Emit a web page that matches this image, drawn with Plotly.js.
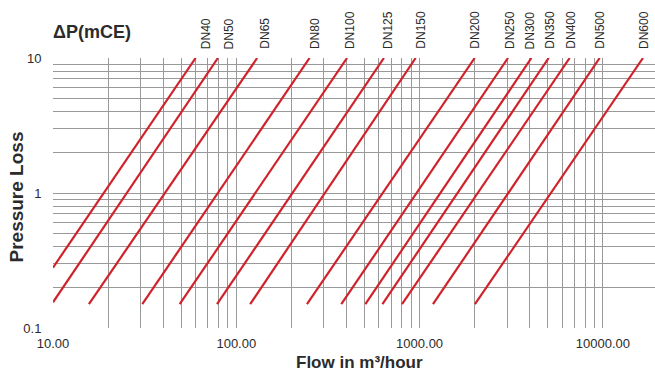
<!DOCTYPE html>
<html>
<head>
<meta charset="utf-8">
<script src="https://cdn.plot.ly/plotly-3.0.1.min.js"></script>
<style>html,body{margin:0;padding:0;background:#fff;overflow:hidden}#chart{width:655px;height:372px}</style>
</head>
<body>
<div id="chart"></div>
<script>
// ---- data ----
const sizes = ['DN40','DN50','DN65','DN80','DN100','DN125','DN150','DN200','DN250','DN300','DN350','DN400','DN500','DN600'];
const flowStart = [10, 10, 15.7, 30.7, 49.1, 78.5, 119, 243, 374, 506, 627, 802, 1183, 2005];
const lossStart = [0.28, 0.155, 0.15, 0.15, 0.15, 0.15, 0.15, 0.15, 0.15, 0.15, 0.15, 0.15, 0.15, 0.15];
const flowEnd = [60, 79.4, 130, 251, 402, 639, 952, 1998, 3036, 4073, 5062, 6588, 9604, 16548];
const lossEnd = [10, 10, 10, 10, 10, 10, 10, 10, 10, 10, 10, 10, 10, 10];
const xMajor = [10, 100, 1000, 10000];
const xMajorText = ['10.00', '100.00', '1000.00', '10000.00'];
const yMajor = [0.1, 1, 10];
const yMajorText = ['0.1', '1', '10'];
const xTitle = 'Flow in m³/hour';
const yTitle = 'Pressure Loss';
const unitLabel = 'ΔP(mCE)';

// label offsets (px) relative to line end
const labelShift = [10, 11, 7, 5, 3, 4, 5, 0, 2, -1, 1, 1, 0, 1];

// grid values (every 1..9 in each decade)
function gridVals(lo, hi) {
  const v = [];
  for (let d = lo; d < hi; d *= 10) for (let k = 1; k <= 9; k++) v.push(+(k * d).toPrecision(3));
  v.push(hi);
  return v;
}
const xGrid = gridVals(10, 10000);
const yGrid = gridVals(0.1, 10);
const xText = xGrid.map(v => { const i = xMajor.indexOf(v); return i >= 0 ? xMajorText[i] : ''; });
const yText = yGrid.map(v => { const i = yMajor.findIndex(m => Math.abs(m - v) < 1e-9); return i >= 0 ? yMajorText[i] : ''; });

const red = '#d0222a';
const traces = sizes.map((s, i) => ({
  type: 'scatter', mode: 'lines', name: s,
  x: [flowStart[i], flowEnd[i]], y: [lossStart[i], lossEnd[i]],
  line: {color: red, width: 2.2}, hoverinfo: 'skip'
}));

const txt = '#2b2b2b';
const font = 'Liberation Sans, Arial, sans-serif';
const W = 655, H = 372, ml = 53, mt = 58, mb = 44;
const pw = W - ml, ph = H - mt - mb;
const px = X => (X - ml) / pw;
const py = Y => 1 - (Y - mt) / ph;

const annotations = sizes.map((s, i) => ({
  text: s, x: Math.log10(flowEnd[i]), xref: 'x', y: 1, yref: 'paper',
  xanchor: 'center', yanchor: 'bottom', yshift: 7, xshift: labelShift[i],
  textangle: -90, showarrow: false, font: {family: font, size: 12, color: txt}
}));
annotations.push({text: unitLabel, x: px(51), xref: 'paper', xanchor: 'left', y: py(32), yref: 'paper', yanchor: 'middle',
  showarrow: false, font: {family: font, size: 18, color: txt, weight: 'bold'}});
annotations.push({text: xTitle, x: px(359), xref: 'paper', xanchor: 'center', y: py(362), yref: 'paper', yanchor: 'middle',
  borderpad: 0, showarrow: false, font: {family: font, size: 17, color: txt, weight: 'bold'}});
annotations.push({text: yTitle, x: px(15.5), xref: 'paper', xanchor: 'center', y: py(197), yref: 'paper', yanchor: 'middle',
  textangle: -90, showarrow: false, font: {family: font, size: 19, color: txt, weight: 'bold'}});

const layout = {
  width: W, height: H,
  margin: {l: ml, r: 0, t: mt, b: mb},
  paper_bgcolor: '#fff', plot_bgcolor: '#fff',
  showlegend: false,
  xaxis: {
    type: 'log', range: [1, 1 + pw / 183.3],
    tickmode: 'array', tickvals: xGrid, ticktext: xText,
    showgrid: true, gridcolor: '#999999', gridwidth: 1,
    zeroline: false, showline: false,
    ticks: 'outside', ticklen: 3, tickcolor: 'rgba(0,0,0,0)',
    tickfont: {family: font, size: 13, color: txt}
  },
  yaxis: {
    type: 'log', range: [-1, 1],
    tickmode: 'array', tickvals: yGrid, ticktext: yText,
    showgrid: true, gridcolor: '#999999', gridwidth: 1,
    zeroline: false, showline: false,
    ticks: 'outside', ticklen: 8, tickcolor: 'rgba(0,0,0,0)',
    tickfont: {family: font, size: 13, color: txt}
  },
  annotations: annotations
};

Plotly.newPlot('chart', traces, layout, {staticPlot: true, displayModeBar: false});
</script>
</body>
</html>
